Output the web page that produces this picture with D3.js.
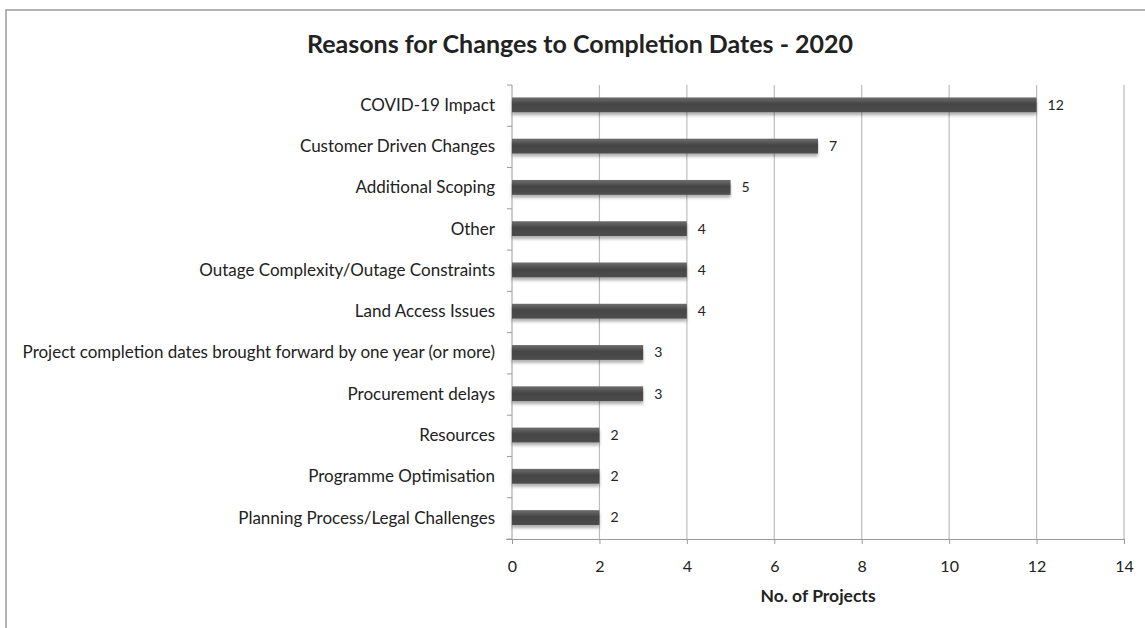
<!DOCTYPE html>
<html><head><meta charset="utf-8">
<script src="https://cdn.jsdelivr.net/npm/d3@7"></script>
<style>
html,body{margin:0;padding:0;background:#fff;}
svg{display:block;}
text{font-family:Lato,"Open Sans",sans-serif;fill:#222;}
</style></head><body>
<svg id="chart" width="1145" height="628"></svg>
<script>
const categories = [
  "COVID-19 Impact",
  "Customer Driven Changes",
  "Additional Scoping",
  "Other",
  "Outage Complexity/Outage Constraints",
  "Land Access Issues",
  "Project completion dates brought forward by one year (or more)",
  "Procurement delays",
  "Resources",
  "Programme Optimisation",
  "Planning Process/Legal Challenges"
];
const values = [12, 7, 5, 4, 4, 4, 3, 3, 2, 2, 2];
const xTicks = [0, 2, 4, 6, 8, 10, 12, 14];
const title = "Reasons for Changes to Completion Dates - 2020";
const xTitle = "No. of Projects";

const svg = d3.select("#chart");
const W = 1145, H = 628;
const m = {left: 512, right: 21, top: 85, bottom: 89};

// outer frame
svg.append("rect").attr("x", 6).attr("y", 10).attr("width", W + 20).attr("height", H + 20)
  .attr("fill", "none").attr("stroke", "#9a9a9a").attr("stroke-width", 1.5);

const defs = svg.append("defs");
const grad = defs.append("linearGradient").attr("id", "barGrad")
  .attr("x1", 0).attr("y1", 0).attr("x2", 0).attr("y2", 1);
grad.append("stop").attr("offset", "0%").attr("stop-color", "#6e6e6e");
grad.append("stop").attr("offset", "45%").attr("stop-color", "#444");
grad.append("stop").attr("offset", "100%").attr("stop-color", "#4e4e4e");
const f = defs.append("filter").attr("id", "shadow").attr("x", "-5%").attr("y", "-30%").attr("width", "110%").attr("height", "180%");
f.append("feDropShadow").attr("dx", 0).attr("dy", 3).attr("stdDeviation", 1.8)
  .attr("flood-color", "#000").attr("flood-opacity", 0.3);

const x = d3.scaleLinear().domain([0, 14]).range([m.left, W - m.right]);
const y = d3.scaleBand().domain(categories).range([m.top, H - m.bottom])
  .paddingInner(0.64).paddingOuter(0.32).align(0.47);

// gridlines
svg.append("g").selectAll("line").data(xTicks.slice(1)).join("line")
  .attr("x1", d => x(d)).attr("x2", d => x(d))
  .attr("y1", m.top).attr("y2", H - m.bottom)
  .attr("stroke", "#bdbdbd").attr("stroke-width", 1.2);

// bottom axis
const xAxis = svg.append("g").attr("transform", `translate(0,${H - m.bottom})`)
  .call(d3.axisBottom(x).tickValues(xTicks).tickSize(5).tickPadding(17).tickSizeOuter(0));
xAxis.select(".domain").attr("stroke", "#9a9a9a").attr("d", `M${m.left - 6},0.5H${W - m.right}`);
xAxis.selectAll(".tick line").attr("stroke", "#9a9a9a");
xAxis.selectAll(".tick text").style("font-size", "16px").attr("fill", "#222");

// left axis line and band ticks
const yEdges = d3.range(categories.length + 1).map(i => m.top + i * y.step());
svg.append("line").attr("x1", m.left).attr("x2", m.left).attr("y1", m.top).attr("y2", H - m.bottom)
  .attr("stroke", "#9a9a9a").attr("stroke-width", 1);
svg.append("g").selectAll("line").data(yEdges).join("line")
  .attr("x1", m.left - 5).attr("x2", m.left).attr("y1", d => d).attr("y2", d => d)
  .attr("stroke", "#9a9a9a");

// category labels
svg.append("g").selectAll("text").data(categories).join("text")
  .attr("x", m.left - 17).attr("y", d => y(d) + y.bandwidth() / 2)
  .attr("dy", "0.35em").attr("text-anchor", "end")
  .style("font-size", "17px").text(d => d);

// bars
svg.append("g").selectAll("rect").data(values).join("rect")
  .attr("x", x(0)).attr("y", (d, i) => y(categories[i]))
  .attr("width", d => x(d) - x(0)).attr("height", y.bandwidth())
  .attr("fill", "url(#barGrad)").attr("filter", "url(#shadow)");

// value labels
svg.append("g").selectAll("text").data(values).join("text")
  .attr("x", d => x(d) + 11).attr("y", (d, i) => y(categories[i]) + y.bandwidth() / 2)
  .attr("dy", "0.35em").style("font-size", "14px").text(d => d);

// title
svg.append("text").attr("x", 580).attr("y", 53).attr("text-anchor", "middle")
  .style("font-size", "25px").style("font-weight", "bold").attr("fill", "#111").text(title);

// x title
svg.append("text").attr("x", (x(0) + x(14)) / 2).attr("y", 602).attr("text-anchor", "middle")
  .style("font-size", "17.5px").style("font-weight", "bold").text(xTitle);
</script>
</body></html>
